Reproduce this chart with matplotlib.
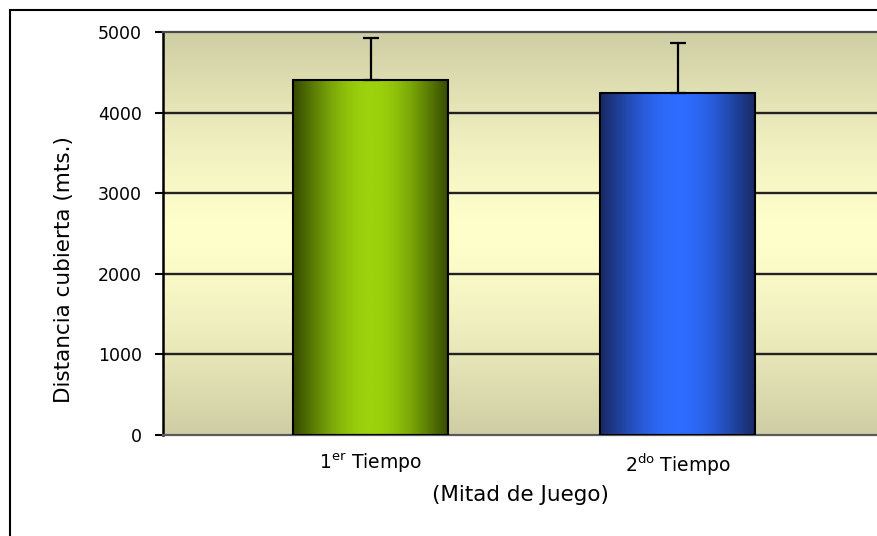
import numpy as np
import matplotlib
matplotlib.use("Agg")
import matplotlib.pyplot as plt
from matplotlib.patches import Rectangle
from matplotlib.colors import LinearSegmentedColormap

# datos: distancia cubierta por mitad de juego
mitades = [r"1$^{\mathregular{er}}$ Tiempo", r"2$^{\mathregular{do}}$ Tiempo"]
distancia = [4400, 4240]
desvio = [520, 625]
yticks = [0, 1000, 2000, 3000, 4000, 5000]

# colores de las barras (borde oscuro, centro claro)
col_borde = ["#364c00", "#182a66"]
col_centro = ["#9cd20c", "#2e6cff"]

fig = plt.figure(figsize=(8.78, 5.36), dpi=100)
fig.patch.set_facecolor("white")

# marco exterior
fig.patches.append(Rectangle((10 / 878, -0.2), 1.2, 1 - 10 / 536 + 0.2,
                             transform=fig.transFigure, fill=False,
                             edgecolor="black", linewidth=1.5, zorder=0))

ax = fig.add_axes([163 / 878, 1 - 435 / 536, 715 / 878, 403 / 536])
x = np.arange(len(mitades))
ax.set_xlim(-0.676, 1.653)
ax.set_ylim(0, 5000)

# fondo con degradado vertical
t = np.abs(np.linspace(-1, 1, 256)) ** 1.4
borde = np.array([206, 205, 164]) / 255
centro = np.array([255, 255, 204]) / 255
fondo = centro[None, :] * (1 - t[:, None]) + borde[None, :] * t[:, None]
ax.imshow(fondo[:, None, :], extent=(-0.676, 1.653, 0, 5000),
          aspect="auto", zorder=0, origin="lower")

# lineas de division
for v in yticks[1:-1]:
    ax.axhline(v, color="#222222", linewidth=1.7, zorder=1)

barras = ax.bar(x, distancia, width=0.505, facecolor="none",
                edgecolor="black", linewidth=1.5, zorder=3)

# degradado horizontal dentro de cada barra
u = np.linspace(0, 1, 200)
perfil = np.sin(np.pi * u) ** 1.1
for b, c0, c1 in zip(barras, col_borde, col_centro):
    cmap = LinearSegmentedColormap.from_list("g", [c0, c1])
    img = ax.imshow(perfil[None, :], cmap=cmap, vmin=0, vmax=1,
                    extent=(b.get_x(), b.get_x() + b.get_width(), 0, b.get_height()),
                    aspect="auto", zorder=2)
    img.set_clip_path(b)

ax.errorbar(x, distancia, yerr=[[0] * len(x), desvio], fmt="none",
            ecolor="black", elinewidth=1.6, capsize=5.8, capthick=1.6, zorder=4)

ax.set_yticks(yticks)
ax.set_xticks(x)
ax.set_xticklabels(mitades, fontsize=13.5)
ax.tick_params(axis="y", labelsize=12.5, length=6, width=1.5, pad=9)
ax.tick_params(axis="x", length=0, pad=12)

ax.spines["right"].set_visible(False)
ax.spines["left"].set_linewidth(1.8)
ax.spines["left"].set_color("black")
ax.spines["top"].set_linewidth(1.6)
ax.spines["top"].set_color("#4a4a4a")
ax.spines["bottom"].set_linewidth(1.6)
ax.spines["bottom"].set_color("#5a5a5a")

ax.set_ylabel("Distancia cubierta (mts.)", fontsize=15.5)
ax.yaxis.set_label_coords(-0.1245, 0.41)
ax.set_xlabel("(Mitad de Juego)", fontsize=15.5)
ax.xaxis.set_label_coords(0.5, -0.125)

fig.savefig("out.png", dpi=100)
